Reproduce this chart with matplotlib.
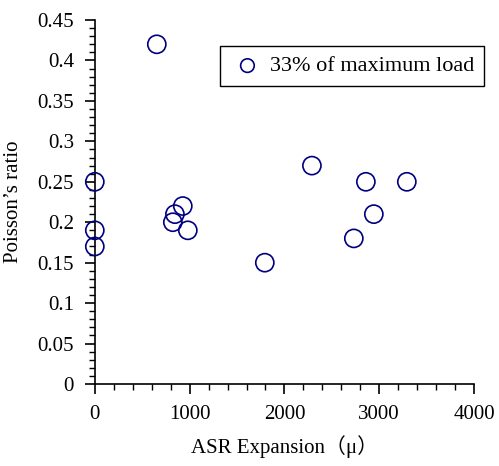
import matplotlib.pyplot as plt
import numpy as np
from matplotlib.ticker import MultipleLocator, FuncFormatter

# ASR expansion (micro strain) vs Poisson's ratio at 33% of max load
expansion = [0, 0, 0, 654, 845, 823, 928, 981, 1793, 2290, 2732, 2859, 2943, 3291]
poisson = [0.25, 0.19, 0.17, 0.42, 0.21, 0.20, 0.22, 0.19, 0.15, 0.27, 0.18, 0.25, 0.21, 0.25]

fam = ['Liberation Serif', 'Noto Sans CJK SC']
plt.rcParams['font.family'] = fam

fig = plt.figure(figsize=(4.99, 4.66), dpi=100)
ax = fig.add_axes([0.19, 0.176, 0.76, 0.781])

ax.scatter(expansion, poisson, s=170, facecolors='none', edgecolors='#000080',
           linewidths=1.2, clip_on=False, zorder=3, label='33% of maximum load')

ax.set_xlim(0, 4000)
ax.set_ylim(0, 0.45)
ax.xaxis.set_major_locator(MultipleLocator(1000))
ax.xaxis.set_minor_locator(MultipleLocator(200))
ax.yaxis.set_major_locator(MultipleLocator(0.05))
ax.yaxis.set_minor_locator(MultipleLocator(0.01))
ax.yaxis.set_major_formatter(FuncFormatter(lambda v, p: '%g' % round(v, 2)))
ax.tick_params(which='major', direction='out', length=7, width=1.2, labelsize=15, pad=8)
ax.tick_params(which='minor', direction='out', length=4, width=1.0)

ax.spines['right'].set_visible(False)
ax.spines['top'].set_visible(False)
ax.spines['left'].set_linewidth(1.2)
ax.spines['bottom'].set_linewidth(1.2)

ax.set_xlabel('ASR Expansion（μ）', size=15, labelpad=8)
ax.set_ylabel('Poisson’s ratio', size=15, labelpad=10)

leg = ax.legend(loc='upper right', bbox_to_anchor=(1.026, 0.929), borderaxespad=0,
                fontsize=16, fancybox=False, framealpha=1, edgecolor='black',
                markerscale=0.75, handletextpad=0.2, handlelength=1.6,
                borderpad=0.45)
leg.get_frame().set_linewidth(1.0)

plt.savefig('out.png', dpi=100)
